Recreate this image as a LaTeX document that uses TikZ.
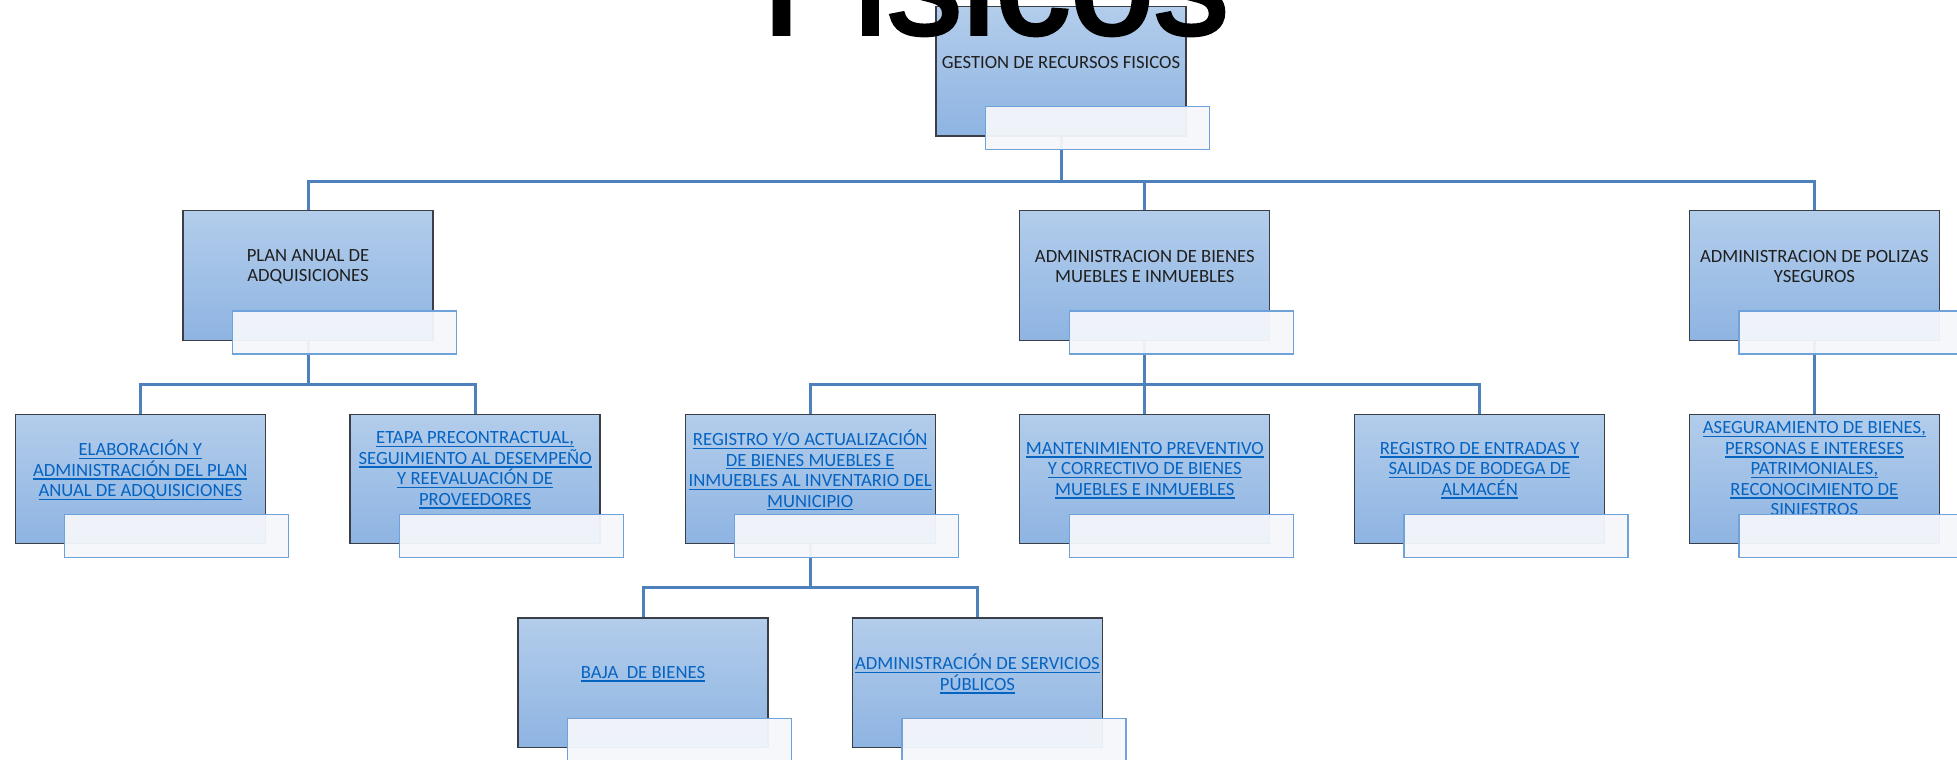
\documentclass[tikz,border=0pt]{standalone}
\usepackage{fontspec}
\setmainfont{Carlito}
\newfontfamily\titlefont[FakeBold=2.5]{Liberation Sans}
\usetikzlibrary{backgrounds}

\definecolor{conncol}{HTML}{4E80BC}
\definecolor{boxline}{HTML}{3A3E46}
\definecolor{boxtop}{HTML}{B3CDEB}
\definecolor{boxbot}{HTML}{8EB4E2}
\definecolor{notecol}{HTML}{6FA2DA}
\definecolor{notefill}{HTML}{F4F7FB}
\definecolor{textcol}{HTML}{1F1F1F}
\definecolor{linkcol}{HTML}{0563C1}

% underlined link-style text line
\newsavebox\lnkbox
\newcommand\lnk[1]{\sbox\lnkbox{#1}\rlap{\rule[-3.3pt]{\wd\lnkbox}{1.4pt}}\usebox\lnkbox}

% one org-chart unit: shaded box, its caption, and the note box below-right
\newcommand\orgunit[5]{%
  \node[unitbox] (#1) at (#2,#3+64.75) {};
  \node[#4] (#1-t) at (#2,#3+56) {#5};
  \node[notebox] (#1-n) at (#2+36.5,#3+121.8) {};
}

\tikzset{
  unitbox/.style={draw=boxline, line width=1.3pt, top color=boxtop, bottom color=boxbot,
    minimum width=250pt, minimum height=129.5pt, inner sep=0pt},
  notebox/.style={draw=notecol, line width=1.3pt, fill=notefill, fill opacity=0.95,
    minimum width=224pt, minimum height=43pt, inner sep=0pt},
  boxtext/.style={align=center, inner sep=0pt, text=textcol,
    font=\fontsize{18.67pt}{20.5pt}\selectfont},
  linktext/.style={boxtext, text=linkcol},
  conn/.style={draw=conncol, line width=3pt},
}

\begin{document}
\begin{tikzpicture}[x=1pt, y=-1pt]
\useasboundingbox (0,0) rectangle (1957,760);
\clip (0,0) rectangle (1957,760);

% level 0
\orgunit{gestion}{1061}{6.5}{boxtext}{GESTION DE RECURSOS FISICOS}

% level 1
\orgunit{plan}{308}{210.7}{boxtext}{PLAN ANUAL DE\\ADQUISICIONES}
\orgunit{bienes}{1144.8}{210.7}{boxtext}{ADMINISTRACION DE BIENES\\MUEBLES E INMUEBLES}
\orgunit{polizas}{1814.4}{210.7}{boxtext}{ADMINISTRACION DE POLIZAS\\YSEGUROS}

% level 2
\orgunit{elab}{140.3}{414.3}{linktext}{\lnk{ELABORACIÓN Y}\\\lnk{ADMINISTRACIÓN DEL PLAN}\\\lnk{ANUAL DE ADQUISICIONES}}
\orgunit{etapa}{475.1}{414.3}{linktext}{\lnk{ETAPA PRECONTRACTUAL,}\\\lnk{SEGUIMIENTO AL DESEMPEÑO}\\\lnk{Y REEVALUACIÓN DE}\\\lnk{PROVEEDORES}}
\orgunit{registro}{810.2}{414.3}{linktext}{\lnk{REGISTRO Y/O ACTUALIZACIÓN}\\\lnk{DE BIENES MUEBLES E}\\\lnk{INMUEBLES AL INVENTARIO DEL}\\\lnk{MUNICIPIO}}
\orgunit{mant}{1144.8}{414.3}{linktext}{\lnk{MANTENIMIENTO PREVENTIVO}\\\lnk{Y CORRECTIVO DE BIENES}\\\lnk{MUEBLES E INMUEBLES}}
\orgunit{entradas}{1479.6}{414.3}{linktext}{\lnk{REGISTRO DE ENTRADAS Y}\\\lnk{SALIDAS DE BODEGA DE}\\\lnk{ALMACÉN}}
\orgunit{aseg}{1814.4}{414.3}{linktext}{\lnk{ASEGURAMIENTO DE BIENES,}\\\lnk{PERSONAS E INTERESES}\\\lnk{PATRIMONIALES,}\\\lnk{RECONOCIMIENTO DE}\\\lnk{SINIESTROS}}

% level 3
\orgunit{baja}{643}{618}{linktext}{\lnk{BAJA\ \ DE BIENES}}
\orgunit{servicios}{977.4}{618}{linktext}{\lnk{ADMINISTRACIÓN DE SERVICIOS}\\\lnk{PÚBLICOS}}

% connectors, drawn beneath the boxes
\begin{scope}[on background layer]
  \foreach \c in {plan,bienes,polizas}
    \draw[conn] (gestion.south) -- ++(0,44.5) -| (\c.north);
  \foreach \c in {elab,etapa}
    \draw[conn] (plan.south) -- ++(0,43.5) -| (\c.north);
  \foreach \c in {registro,mant,entradas}
    \draw[conn] (bienes.south) -- ++(0,43.5) -| (\c.north);
  \draw[conn] (polizas.south) -- (aseg.north);
  \foreach \c in {baja,servicios}
    \draw[conn] (registro.south) -- ++(0,43.5) -| (\c.north);
\end{scope}

% large heading, partly above the page
\node[font=\titlefont\fontsize{150pt}{160pt}\selectfont, anchor=base west,
      inner sep=0pt, text=black] (title) at (762,34) {Fisicos};
\end{tikzpicture}
\end{document}
